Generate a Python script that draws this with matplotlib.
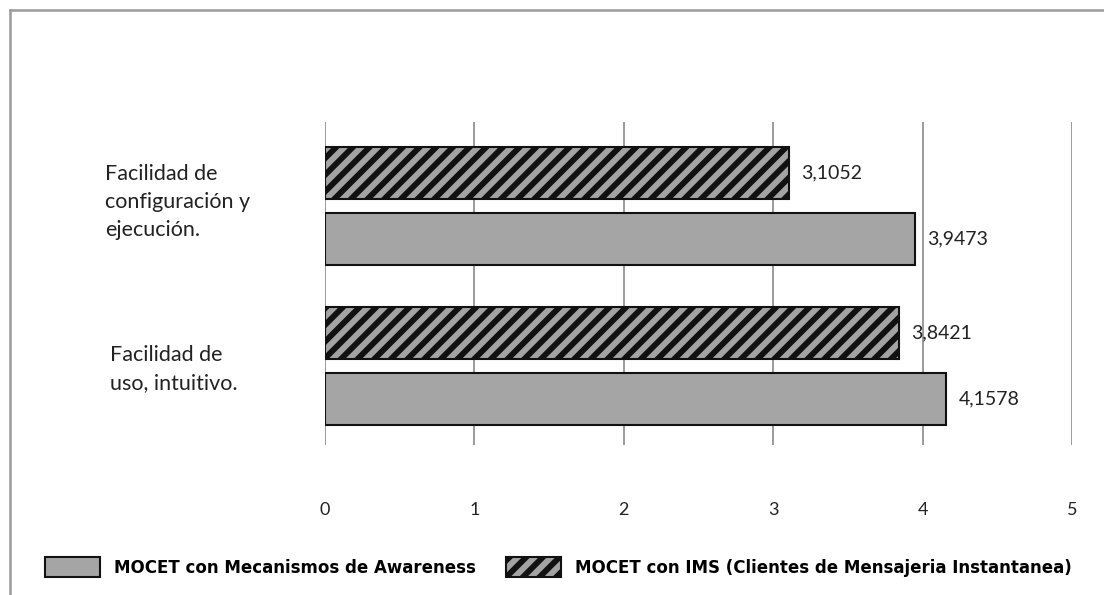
import matplotlib
matplotlib.use("Agg")
import matplotlib.pyplot as plt
from matplotlib.lines import Line2D
from matplotlib.transforms import blended_transform_factory

# bottom to top
categories = ["Facilidad de\nuso, intuitivo.",
              "Facilidad de\nconfiguración y\nejecución."]
awareness = [4.1578, 3.9473]
ims = [3.8421, 3.1052]
series_names = ["MOCET con Mecanismos de Awareness",
                "MOCET con IMS (Clientes de Mensajeria Instantanea)"]
xticks = [0, 1, 2, 3, 4, 5]

plt.rcParams["hatch.linewidth"] = 4.2
plt.rcParams["hatch.color"] = "#1c1c1c"

fig = plt.figure(figsize=(11.04, 5.95), dpi=100)
ax = fig.add_axes([325 / 1104, 1 - 445 / 595, 747 / 1104, 323 / 595])

pos = list(range(len(categories)))
off = 0.206
h = 0.33
b_aw = ax.barh([p - off for p in pos], awareness, height=h, color="#a5a5a5",
               edgecolor="#111111", linewidth=1.5, label=series_names[0], zorder=3)
b_ims = ax.barh([p + off for p in pos], ims, height=h, color="#a3a3a3",
                edgecolor="#111111", linewidth=1.5, hatch="//",
                label=series_names[1], zorder=3)

# value labels with comma decimals
for bars, vals in ((b_aw, awareness), (b_ims, ims)):
    for rect, v in zip(bars, vals):
        ax.annotate(f"{v:.4f}".replace(".", ","),
                    (v, rect.get_y() + rect.get_height() / 2),
                    xytext=(9, 0), textcoords="offset points",
                    va="center", ha="left", fontsize=14,
                    family="Lato", color="#222222")

ax.set_xlim(0, 5)
ax.set_ylim(-0.494, 1.525)
ax.set_xticks(xticks)
ax.set_xticklabels([str(t) for t in xticks], family="Lato", fontsize=13,
                   color="#222222")
ax.tick_params(axis="x", length=0, pad=41)
ax.set_yticks([])
ax.grid(axis="x", color="#8a8a8a", linewidth=1.2, zorder=0)
for s in ax.spines.values():
    s.set_visible(False)

# category labels, left aligned
tr = blended_transform_factory(fig.transFigure, ax.transData)
ax.text(105 / 1104, pos[1] + 0.025, categories[1], transform=tr, ha="left",
        va="center", family="Lato", fontsize=15.5, color="#222222",
        linespacing=1.5)
ax.text(110 / 1104, pos[0] - 0.02, categories[0], transform=tr, ha="left",
        va="center", family="Lato", fontsize=15.5, color="#222222",
        linespacing=1.5)

fig.legend(handles=[b_aw, b_ims], labels=series_names, ncol=2,
           loc="center left", bbox_to_anchor=(30 / 1104, 1 - 567 / 595),
           frameon=False, handlelength=3.3, handleheight=1.4,
           handletextpad=0.85, columnspacing=1.8,
           prop={"family": "DejaVu Sans", "weight": "bold", "size": 12})

# outer frame (top and left edges)
fig.add_artist(Line2D([10 / 1104, 1], [1 - 10 / 595, 1 - 10 / 595],
                      transform=fig.transFigure, color="#9a9a9a", linewidth=1.8))
fig.add_artist(Line2D([10 / 1104, 10 / 1104], [0, 1 - 10 / 595],
                      transform=fig.transFigure, color="#9a9a9a", linewidth=1.8))

fig.savefig("out.png", dpi=100, facecolor="white")
